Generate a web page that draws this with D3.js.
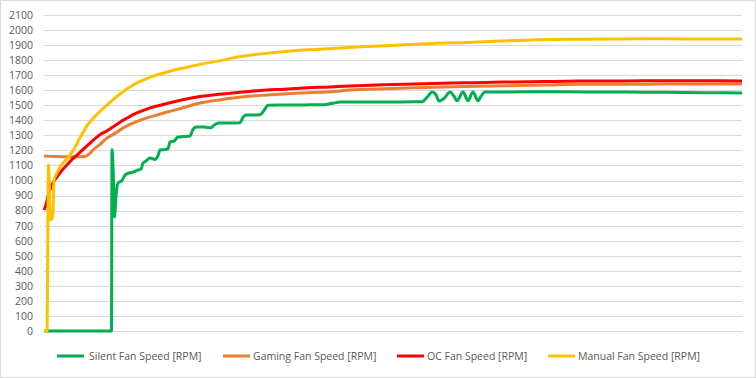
<!DOCTYPE html>
<html>
<head>
<meta charset="utf-8">
<script src="https://cdn.jsdelivr.net/npm/d3@7"></script>
<style>
  body { margin: 0; background: #fff; }
  svg { display: block; font-family: "Open Sans", sans-serif; }
</style>
</head>
<body>
<div id="chart"></div>
<script>
// readings taken off the chart: [sample, rpm]
const silent = [
  [0,0],[67.5,0],[68,1205],[69.5,1000],[70.5,757],[72,900],[74,983],[78,1000],[81,1036],[85,1050],
  [89,1056],[94,1070],[97,1075],[99,1116],[102,1130],[106,1150],[111,1140],[114,1165],[116,1203],
  [120,1205],[124,1212],[126,1256],[130,1262],[134,1289],[140,1292],[146,1296],[149,1340],[152,1356],
  [160,1356],[167,1350],[170,1368],[175,1382],[185,1382],[196,1384],[199,1420],[202,1435],[210,1435],
  [216,1437],[220,1465],[224,1500],[235,1502],[250,1502],[265,1503],[280,1504],[286,1510],[290,1515],
  [296,1522],[310,1522],[330,1522],[350,1522],[370,1523],[378,1524],[384,1560],[388,1588],[392,1570],
  [395,1528],[400,1545],[406,1588],[410,1560],[413,1530],[419,1588],[424,1530],[429,1588],[434,1530],
  [437,1560],[441,1588],[450,1588],[480,1590],[520,1590],[560,1588],[600,1587],[640,1585],[680,1583],
  [698,1582]
];
const gaming = [
  [0,1163],[10,1160],[20,1158],[30,1158],[41,1160],[45,1175],[49,1203],[56,1240],[63,1282],[70,1310],
  [76,1336],[82,1360],[89,1382],[100,1410],[110,1430],[123,1455],[140,1485],[156,1515],[175,1535],
  [189,1548],[205,1560],[223,1568],[240,1575],[256,1581],[286,1590],[306,1601],[340,1610],[380,1618],
  [420,1625],[460,1630],[500,1634],[536,1640],[580,1640],[620,1641],[660,1642],[698,1641]
];
const oc = [
  [0,804],[2,840],[4,895],[6,937],[9,985],[13,1023],[18,1068],[23,1103],[28,1140],[33,1169],[40,1212],
  [46,1249],[56,1305],[63,1330],[70,1360],[76,1388],[83,1415],[89,1438],[100,1468],[110,1490],
  [123,1512],[140,1538],[156,1558],[175,1574],[189,1582],[205,1592],[223,1601],[240,1607],[256,1614],
  [286,1622],[306,1628],[340,1636],[380,1643],[420,1649],[460,1654],[500,1658],[536,1661],[580,1662],
  [620,1663],[660,1663],[698,1662]
];
const manual = [
  [0,0],[3,0],[4.5,1103],[5.5,900],[6,737],[8,745],[9,800],[10,1003],[13,1050],[16,1090],[21,1130],
  [26,1169],[31,1220],[36,1285],[40,1330],[43,1365],[48,1405],[53,1440],[58,1472],[66,1520],[76,1575],
  [89,1635],[106,1686],[123,1721],[141,1750],[156,1772],[179,1800],[189,1815],[223,1845],[256,1865],
  [289,1878],[323,1891],[356,1900],[389,1911],[423,1918],[456,1927],[489,1934],[523,1939],[560,1940],
  [600,1942],[640,1941],[680,1941],[698,1940]
];
const seriesNames = ["Silent Fan Speed [RPM]", "Gaming Fan Speed [RPM]", "OC Fan Speed [RPM]", "Manual Fan Speed [RPM]"];
const seriesColors = ["#00b050", "#ed7d31", "#ff0000", "#ffc000"];
const yTicks = d3.range(0, 2101, 100);

const w = 756, h = 378;
const svg = d3.select("#chart").append("svg")
  .attr("width", w)
  .attr("height", h);

svg.append("rect")
  .attr("x", 0.5).attr("y", 0.5)
  .attr("width", w - 1).attr("height", h - 1)
  .attr("fill", "#fff")
  .attr("stroke", "#d9d9d9");

const x = d3.scaleLinear().domain([0, 698]).range([44, 742]);
const y = d3.scaleLinear().domain([0, 2100]).range([331, 15]);

// gridlines
svg.append("g")
  .selectAll("line")
  .data(yTicks)
  .enter()
  .append("line")
  .attr("x1", 44).attr("x2", 742)
  .attr("y1", d => Math.round(y(d)) + 0.5)
  .attr("y2", d => Math.round(y(d)) + 0.5)
  .attr("stroke", "#d9d9d9");

// y axis labels
const yAxis = d3.axisLeft(y).tickValues(yTicks).tickFormat(d3.format("d")).tickSize(0).tickPadding(0);
svg.append("g")
  .attr("transform", "translate(33,0)")
  .call(yAxis)
  .call(g => g.select(".domain").remove())
  .selectAll("text")
  .attr("fill", "#595959")
  .style("font-size", "10.5px")
  .style("font-family", "'Open Sans', sans-serif");

// lines
const line = d3.line()
  .x(d => x(d[0]))
  .y(d => y(d[1]))
  .curve(d3.curveMonotoneX);

const allSeries = [silent, gaming, oc, manual];
svg.append("g")
  .selectAll("path")
  .data(allSeries)
  .enter()
  .append("path")
  .attr("d", line)
  .attr("fill", "none")
  .attr("stroke", (d, i) => seriesColors[i])
  .attr("stroke-width", 3)
  .attr("stroke-linejoin", "round");

// legend
const legendX = [57, 223, 397, 548];
const legend = svg.append("g")
  .selectAll("g")
  .data(seriesNames)
  .enter()
  .append("g")
  .attr("transform", (d, i) => `translate(${legendX[i]},356)`);

legend.append("line")
  .attr("x1", 0).attr("x2", 27)
  .attr("stroke", (d, i) => seriesColors[i])
  .attr("stroke-width", 3);

legend.append("text")
  .attr("x", (d, i) => i == 0 ? 32 : 30)
  .attr("dy", "0.35em")
  .attr("fill", "#595959")
  .style("font-size", "10.5px")
  .text(d => d);
</script>
</body>
</html>
